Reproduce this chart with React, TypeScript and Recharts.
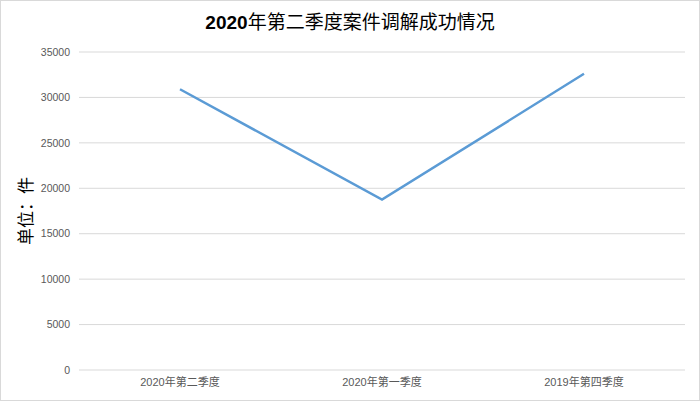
import { LineChart, Line, XAxis, YAxis, CartesianGrid } from "recharts";

// Quarters, read left to right
const quarters = ["2020年第二季度", "2020年第一季度", "2019年第四季度"];
// Successfully mediated cases per quarter
const mediated = [30900, 18750, 32600];
const yTicks = [0, 5000, 10000, 15000, 20000, 25000, 30000, 35000];

const data = quarters.map((q, i) => ({ quarter: q, cases: mediated[i] }));

const FONT = '"Liberation Sans", "Noto Sans CJK SC", sans-serif';

export default function App() {
  return (
    <div
      style={{
        position: "absolute",
        left: 0,
        top: 0,
        width: 700,
        height: 401,
        boxSizing: "border-box",
        border: "1px solid #d9d9d9",
        background: "#fff",
        fontFamily: FONT,
      }}
    >
      {/* ── Title ─────────────────────────── */}
      <div
        style={{
          position: "absolute",
          left: 0,
          top: 9,
          width: "100%",
          textAlign: "center",
          fontSize: 19,
          lineHeight: "26px",
          color: "#000",
          fontFamily: FONT,
        }}
      >
        <span style={{ fontWeight: "bold" }}>2020</span>
        <span>年第二季度案件调解成功情况</span>
      </div>

      <LineChart
        width={698}
        height={399}
        data={data}
        margin={{ top: 51, right: 14, bottom: 0, left: 0 }}
      >
        <CartesianGrid vertical={false} stroke="#d9d9d9" strokeWidth={1} />
        <XAxis
          dataKey="quarter"
          height={30}
          axisLine={false}
          tickLine={false}
          tickSize={0}
          tickMargin={8}
          padding={{ left: 101, right: 101 }}
          tick={{ fontSize: 11, fill: "#595959", fontFamily: FONT }}
        />
        <YAxis
          width={78}
          domain={[0, 35000]}
          ticks={yTicks}
          axisLine={false}
          tickLine={false}
          tickSize={0}
          tickMargin={9}
          tick={{ fontSize: 10.5, fill: "#595959", fontFamily: FONT }}
          label={{
            value: "单位：件",
            angle: -90,
            position: "insideLeft",
            offset: 25,
            style: {
              fontSize: 17,
              fill: "#000",
              textAnchor: "middle",
              fontFamily: '"Noto Sans CJK SC", sans-serif',
            },
          }}
        />
        <Line
          type="linear"
          dataKey="cases"
          stroke="#5b9bd5"
          strokeWidth={2.5}
          dot={false}
          activeDot={false}
          isAnimationActive={false}
        />
      </LineChart>
    </div>
  );
}
